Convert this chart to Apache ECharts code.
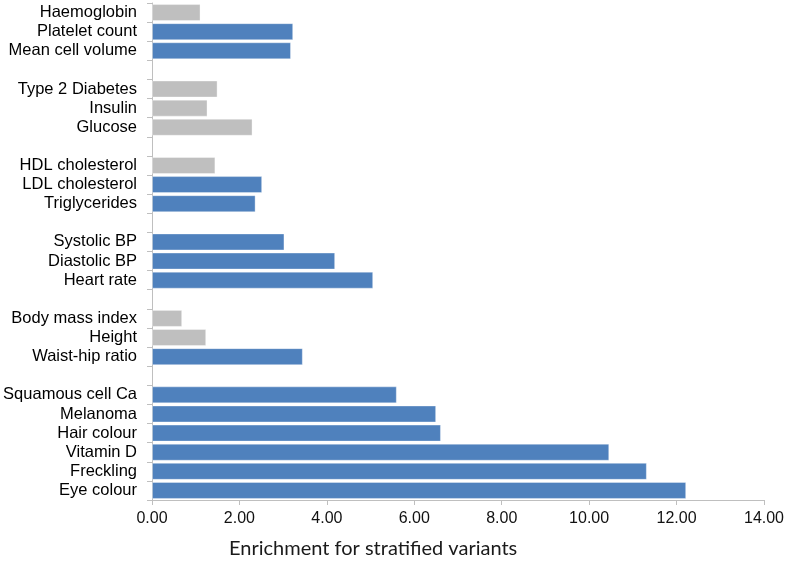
<!DOCTYPE html>
<html>
<head>
<meta charset="utf-8">
<script src="https://cdn.jsdelivr.net/npm/echarts@6/dist/echarts.min.js"></script>
<style>html,body{margin:0;padding:0;background:#fff}#c{width:788px;height:564px}</style>
</head>
<body>
<div id="c"></div>
<script>
// Traits, top to bottom, and their group sizes (a blank row separates groups)
const categories = [
  'Haemoglobin', 'Platelet count', 'Mean cell volume',
  'Type 2 Diabetes', 'Insulin', 'Glucose',
  'HDL cholesterol', 'LDL cholesterol', 'Triglycerides',
  'Systolic BP', 'Diastolic BP', 'Heart rate',
  'Body mass index', 'Height', 'Waist-hip ratio',
  'Squamous cell Ca', 'Melanoma', 'Hair colour', 'Vitamin D', 'Freckling', 'Eye colour'
];
const groupSizes = [3, 3, 3, 3, 3, 6];
const values = [
  1.11, 3.23, 3.18,
  1.50, 1.27, 2.30,
  1.45, 2.52, 2.37,
  3.03, 4.19, 5.06,
  0.69, 1.24, 3.45,
  5.60, 6.50, 6.61, 10.46, 11.32, 12.22
];
// 1 = significant (blue), 0 = not significant (grey)
const significant = [
  0, 1, 1,
  0, 0, 0,
  0, 1, 1,
  1, 1, 1,
  0, 0, 1,
  1, 1, 1, 1, 1, 1
];
const xTicks = { min: 0, max: 14, interval: 2 };
const xTitle = 'Enrichment for stratified variants';

const BLUE = '#4F81BD', GREY = '#BFBFBF';

// Build axis rows with blank separator rows between groups
const rows = [], rowData = [];
let k = 0, gapId = 0;
groupSizes.forEach((n, gi) => {
  if (gi > 0) { rows.push(' '.repeat(++gapId)); rowData.push(null); }
  for (let i = 0; i < n; i++, k++) {
    rows.push(categories[k]);
    rowData.push({ value: values[k], itemStyle: { color: significant[k] ? BLUE : GREY } });
  }
});

const chart = echarts.init(document.getElementById('c'), null, { renderer: 'canvas' });
chart.setOption({
  animation: false,
  backgroundColor: '#fff',
  title: {
    text: xTitle, left: 229, top: 539, padding: 0,
    textStyle: { color: '#1a1a1a', fontSize: 20, fontWeight: 'normal', fontFamily: 'Lato' }
  },
  grid: { left: 152, right: 24, top: 3, bottom: 64, containLabel: false },
  xAxis: {
    type: 'value', min: xTicks.min, max: xTicks.max, interval: xTicks.interval,
    axisLine: { show: true, lineStyle: { color: '#BFBFBF', width: 1 } },
    axisTick: { show: true, length: 5, lineStyle: { color: '#BFBFBF' } },
    splitLine: { show: false },
    axisLabel: { color: '#111', fontSize: 16, fontFamily: 'Liberation Sans', margin: 11,
      formatter: v => v.toFixed(2) }
  },
  yAxis: {
    type: 'category', inverse: true, data: rows,
    axisLine: { show: true, lineStyle: { color: '#BFBFBF', width: 1 } },
    axisTick: { show: true, length: 5, lineStyle: { color: '#BFBFBF' } },
    axisLabel: { color: '#000', fontSize: 16.5, fontFamily: 'Liberation Sans', margin: 15, interval: 0 }
  },
  series: [{
    type: 'bar', data: rowData, barWidth: 17,
    itemStyle: { borderColor: 'rgba(255,255,255,0.35)', borderWidth: 1 }
  }]
});
</script>
</body>
</html>
